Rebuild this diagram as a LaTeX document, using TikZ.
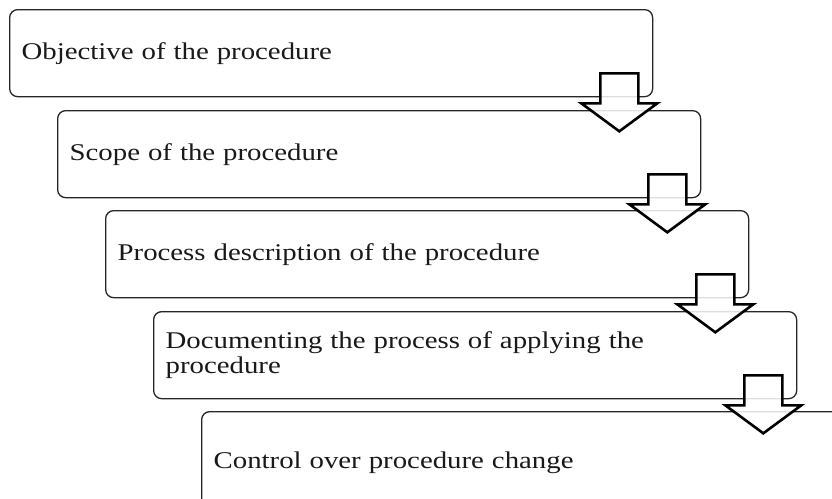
\documentclass[tikz,border=0pt]{standalone}
\usepackage{fontspec}
\setmainfont{Liberation Serif}[FakeStretch=1.2]
\usetikzlibrary{calc}
\tikzset{
  stepbox/.style={draw=black!85, line width=1.3pt, rounded corners=8pt,
    anchor=north west, minimum width=643pt, minimum height=87pt,
    inner xsep=12pt, text width=619pt, align=left, text=black!90,
    font=\fontsize{24}{25}\selectfont},
  flowarrow/.style={draw=black, line width=2.6pt, miter limit=10,
    fill=white, fill opacity=0.85},
  blockdown/.pic={
    \draw[flowarrow] (-19,0) -- (-19,30) -- (-38,30) -- (0,58)
      -- (38,30) -- (19,30) -- (19,0) -- cycle;
  }
}
\begin{document}
\begin{tikzpicture}[x=1pt,y=-1pt]
  \useasboundingbox (0,0) rectangle (832,498);
  \clip (0,0) rectangle (832,498);
  \fill[white] (0,0) rectangle (832,498);

  % the five stages, stepping down to the right
  \node[stepbox] (b1) at (9,9)    {Objective of the procedure};
  \node[stepbox] (b2) at (57,110) {Scope of the procedure};
  \node[stepbox] (b3) at (105,210) {Process description of the procedure};
  \node[stepbox] (b4) at (153,311) {Documenting the process of applying the\\procedure};
  \node[stepbox, minimum height=102pt] (b5) at (201,411) {Control over procedure change};

  % block arrows linking each stage to the next
  \pic at ($(b1.south east)+(-34,-24)$) {blockdown};
  \pic at ($(b2.south east)+(-34,-24)$) {blockdown};
  \pic at ($(b3.south east)+(-34,-24)$) {blockdown};
  \pic at ($(b4.south east)+(-34,-24)$) {blockdown};
\end{tikzpicture}
\end{document}
